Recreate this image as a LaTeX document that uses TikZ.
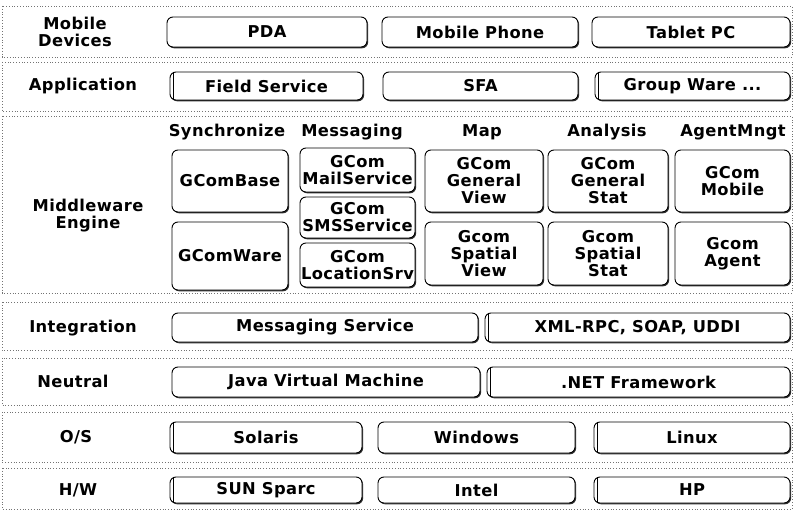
\documentclass[tikz,border=0pt]{standalone}
\usepackage{fontspec}
\setmainfont{DejaVu Sans}[LetterSpace=2.5]
\usetikzlibrary{positioning}
\usetikzlibrary{shadows}

\tikzset{
  blk/.style={draw, line width=0.9pt, rounded corners=6pt, fill=white, align=center, inner sep=0pt,
    drop shadow={shadow xshift=1.1pt, shadow yshift=-1.3pt, fill=black!80, opacity=1}},
  dbl/.style={path picture={\draw[line width=0.8pt] ([xshift=3.5pt]path picture bounding box.north west) -- ([xshift=3.5pt]path picture bounding box.south west);}},
  band/.style={draw=black!55, dotted, line width=0.8pt},
  lbl/.style={align=center, inner sep=0pt}
}

\begin{document}
\begin{tikzpicture}[x=1pt, y=-1pt, font=\fontsize{16.3}{17}\selectfont\bfseries]
				\useasboundingbox (0,0) rectangle (794,510);
				% layers
				\draw[band] (2,6) rectangle (792,57);
				\draw[band] (2,62) rectangle (792,111);
				\draw[band] (2,116) rectangle (792,293);
				\draw[band] (2,302) rectangle (792,350);
				\draw[band] (2,358) rectangle (792,405);
				\draw[band] (2,412) rectangle (792,462);
				\draw[band] (2,468) rectangle (792,509);
				% layer names
				\node[lbl] (mob) at (75,32) {Mobile\\Devices};
				\node[lbl] (app) at (83,86) {Application};
				\node[lbl] (mid) at (88,216) {Middleware\\Engine};
				\node[lbl] (int) at (83,328) {Integration};
				\node[lbl] (neu) at (73,381) {Neutral};
				\node[lbl] (os) at (76,437) {O/S};
				\node[lbl] (hw) at (78,490) {H/W};
				% mobile devices
				\node[blk, minimum width=200, minimum height=30] (pda) at (267,32) {PDA};
				\node[blk, minimum width=196, minimum height=30] (phone) at (480,32) {Mobile Phone};
				\node[blk, minimum width=198, minimum height=30] (tablet) at (691,32) {Tablet PC};
				% application
				\node[blk, dbl, minimum width=193, minimum height=28] (field) at (266.5,86) {Field Service};
				\node[blk, minimum width=195, minimum height=28] (sfa) at (480.5,86) {SFA};
				\node[blk, dbl, minimum width=195, minimum height=28] (group) at (692.5,86) {Group Ware ...};
				% middleware engine
				\node[lbl] (hsync) at (227,132) {Synchronize};
				\node[lbl] (hmsg) at (352,132) {Messaging};
				\node[lbl] (hmap) at (482,132) {Map};
				\node[lbl] (hana) at (607,132) {Analysis};
				\node[lbl] (hagt) at (733,132) {AgentMngt};
				\node[blk, minimum width=116, minimum height=62] (base) at (230,181) {GComBase};
				\node[blk, minimum width=116, minimum height=68] (ware) at (230,256) {GComWare};
				\node[blk, minimum width=115, minimum height=44] (mail) at (357.5,170) {GCom\\MailService};
				\node[blk, minimum width=115, minimum height=41] (sms) at (357.5,217.5) {GCom\\SMSService};
				\node[blk, minimum width=115, minimum height=44] (loc) at (357.5,265) {GCom\\LocationSrv};
				\node[blk, minimum width=118, minimum height=62] (gview) at (484,181) {GCom\\General\\View};
				\node[blk, minimum width=118, minimum height=63] (sview) at (484,253.5) {Gcom\\Spatial\\View};
				\node[blk, minimum width=120, minimum height=62] (gstat) at (608,181) {GCom\\General\\Stat};
				\node[blk, minimum width=120, minimum height=63] (sstat) at (608,253.5) {Gcom\\Spatial\\Stat};
				\node[blk, minimum width=115, minimum height=62] (gmob) at (732.5,181) {GCom\\Mobile};
				\node[blk, minimum width=115, minimum height=63] (gagt) at (732.5,253.5) {Gcom\\Agent};
				% integration
				\node[blk, minimum width=306, minimum height=29] (msgsrv) at (325,327.5) {Messaging Service};
				\node[blk, dbl, minimum width=305, minimum height=29] (xml) at (637.5,327.5) {XML-RPC, SOAP, UDDI};
				% neutral
				\node[blk, minimum width=308, minimum height=30] (jvm) at (326,382) {Java Virtual Machine};
				\node[blk, dbl, minimum width=303, minimum height=30] (net) at (638.5,382) {.NET Framework};
				% o/s
				\node[blk, dbl, minimum width=192, minimum height=31] (sol) at (266,437.5) {Solaris};
				\node[blk, minimum width=197, minimum height=31] (win) at (476.5,437.5) {Windows};
				\node[blk, dbl, minimum width=196, minimum height=31] (lnx) at (692,437.5) {Linux};
				% h/w
				\node[blk, dbl, minimum width=192, minimum height=26] (sun) at (266,490) {SUN Sparc};
				\node[blk, minimum width=197, minimum height=26] (intel) at (476.5,490) {Intel};
				\node[blk, dbl, minimum width=196, minimum height=26] (hp) at (692,490) {HP};
		    \end{tikzpicture}
\end{document}
